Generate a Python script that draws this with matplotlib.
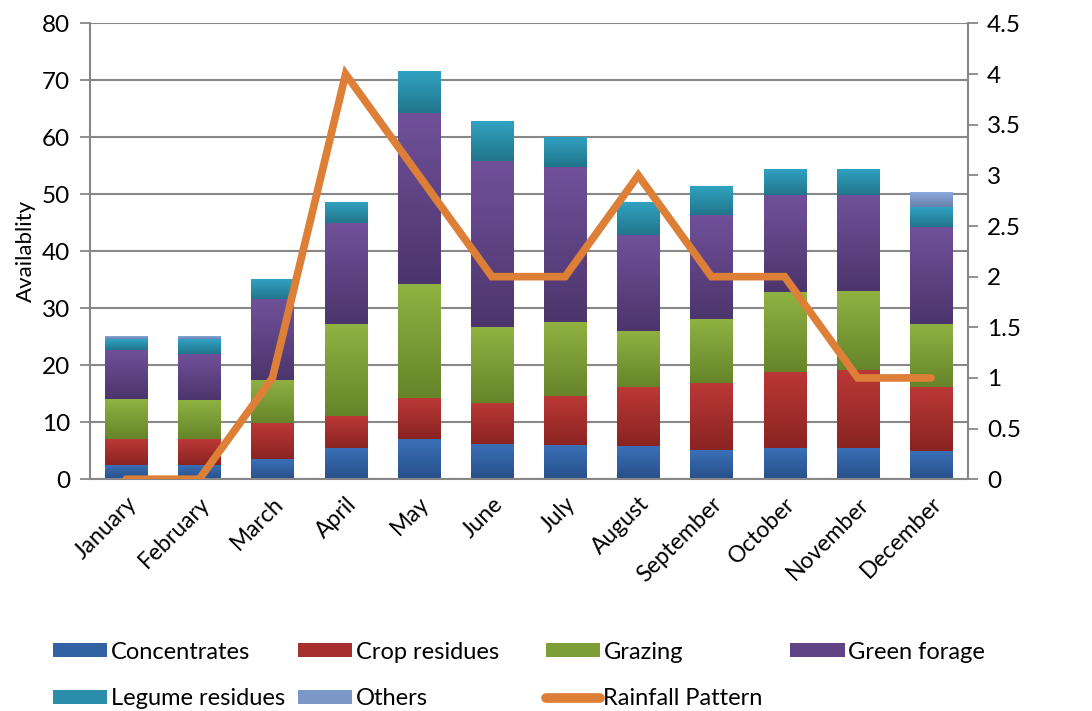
import numpy as np
import matplotlib.pyplot as plt
from matplotlib.colors import LinearSegmentedColormap
from matplotlib.lines import Line2D
from matplotlib.patches import Patch

plt.rcParams['font.family'] = ['Lato', 'DejaVu Sans']

# ===== DATA =====
months = ['January', 'February', 'March', 'April', 'May', 'June',
          'July', 'August', 'September', 'October', 'November', 'December']

concentrates = [2.5, 2.5, 3.5, 5.5, 7.0, 6.2, 6.0, 5.9, 5.2, 5.5, 5.5, 4.9]
crop_residues = [4.5, 4.5, 6.3, 5.6, 7.3, 7.2, 8.6, 10.2, 11.7, 13.4, 13.7, 11.3]
grazing = [7.0, 6.9, 7.6, 16.2, 20.0, 13.3, 13.0, 9.9, 11.2, 14.0, 13.8, 11.1]
green_forage = [8.7, 8.1, 14.2, 17.7, 30.0, 29.1, 27.2, 16.9, 18.3, 17.0, 16.9, 17.0]
legume_residues = [1.9, 2.6, 3.5, 3.7, 7.3, 7.1, 5.3, 5.8, 5.1, 4.6, 4.6, 3.5]
others = [0.5, 0.5, 0, 0, 0, 0, 0, 0, 0, 0, 0, 2.6]

rainfall = [0, 0, 1, 4, 3, 2, 2, 3, 2, 2, 1, 1]

series = [
    ('Concentrates', concentrates, '#3b70b8', '#27508a'),
    ('Crop residues', crop_residues, '#bb3836', '#8a2422'),
    ('Grazing', grazing, '#8fb242', '#66852a'),
    ('Green forage', green_forage, '#70519a', '#4c356c'),
    ('Legume residues', legume_residues, '#31a2c2', '#21768c'),
    ('Others', others, '#8ba9da', '#6981ad'),
]

# ===== CHART =====
fig = plt.figure(figsize=(10.92, 7.11), dpi=100)
ax = fig.add_axes([0.082, 0.326, 0.804, 0.641])

grid_col = '#878787'
x = np.arange(len(months))
width = 0.575
bottom = np.zeros(len(months))
grad = np.linspace(0, 1, 64).reshape(-1, 1)

handles = []
for name, vals, top_c, bot_c in series:
    vals = np.array(vals, dtype=float)
    bars = ax.bar(x, vals, width, bottom=bottom, color='none',
                  edgecolor='none', zorder=2)
    cmap = LinearSegmentedColormap.from_list(name, [bot_c, top_c])
    for b in bars:
        if b.get_height() <= 0:
            continue
        x0 = b.get_x()
        y0 = b.get_y()
        im = ax.imshow(grad, cmap=cmap, origin='lower', aspect='auto',
                       extent=[x0, x0 + b.get_width(), y0, y0 + b.get_height()],
                       zorder=2, interpolation='bicubic')
        im.set_clip_path(b)
    bottom += vals
    handles.append(Patch(facecolor=cmap(0.55), edgecolor='none', label=name))

ax.set_xlim(-0.5, 11.5)
ax.set_ylim(0, 80)
ax.set_yticks(range(0, 81, 10))
ax.set_xticks(x)
ax.set_xticklabels(months, rotation=45, ha='right', rotation_mode='anchor',
                   fontsize=16.5)
ax.tick_params(axis='y', labelsize=17.5, length=7, width=1.3, color=grid_col,
               pad=7)
ax.tick_params(axis='x', length=0, pad=10)
ax.yaxis.grid(True, color=grid_col, linewidth=1.5, zorder=0)
ax.set_axisbelow(True)
ax.set_ylabel('Availablity', fontsize=16, labelpad=4)
for s in ['top', 'right']:
    ax.spines[s].set_visible(False)
for s in ['left', 'bottom']:
    ax.spines[s].set_color(grid_col)
    ax.spines[s].set_linewidth(1.5)

# rainfall on secondary axis
ax2 = ax.twinx()
ax2.plot(x, rainfall, color='#dd7f37', linewidth=5.5,
         solid_capstyle='round', solid_joinstyle='miter', zorder=5)
ax2.set_ylim(0, 4.5)
ax2.set_yticks(np.arange(0, 4.51, 0.5))
ax2.set_yticklabels(['0', '0.5', '1', '1.5', '2', '2.5', '3', '3.5', '4', '4.5'])
ax2.tick_params(axis='y', labelsize=17.5, length=7, width=1.3, color=grid_col,
                pad=7)
for s in ['top', 'left', 'bottom']:
    ax2.spines[s].set_visible(False)
ax2.spines['right'].set_color(grid_col)
ax2.spines['right'].set_linewidth(1.5)

handles.append(Line2D([0], [0], color='#dd7f37', linewidth=7,
                      solid_capstyle='round', label='Rainfall Pattern'))

# legend laid out as four evenly spaced columns
columns = [[handles[0], handles[4]], [handles[1], handles[5]],
           [handles[2], handles[6]], [handles[3]]]
col_x = [0.040, 0.264, 0.491, 0.715]
for cx, col in zip(col_x, columns):
    fig.legend(handles=col, loc='upper left', bbox_to_anchor=(cx, 0.111),
               frameon=False, fontsize=17, handlelength=2.3, handleheight=0.55,
               handletextpad=0.15, labelspacing=1.1, borderaxespad=0)

fig.savefig('out.png', dpi=100)
